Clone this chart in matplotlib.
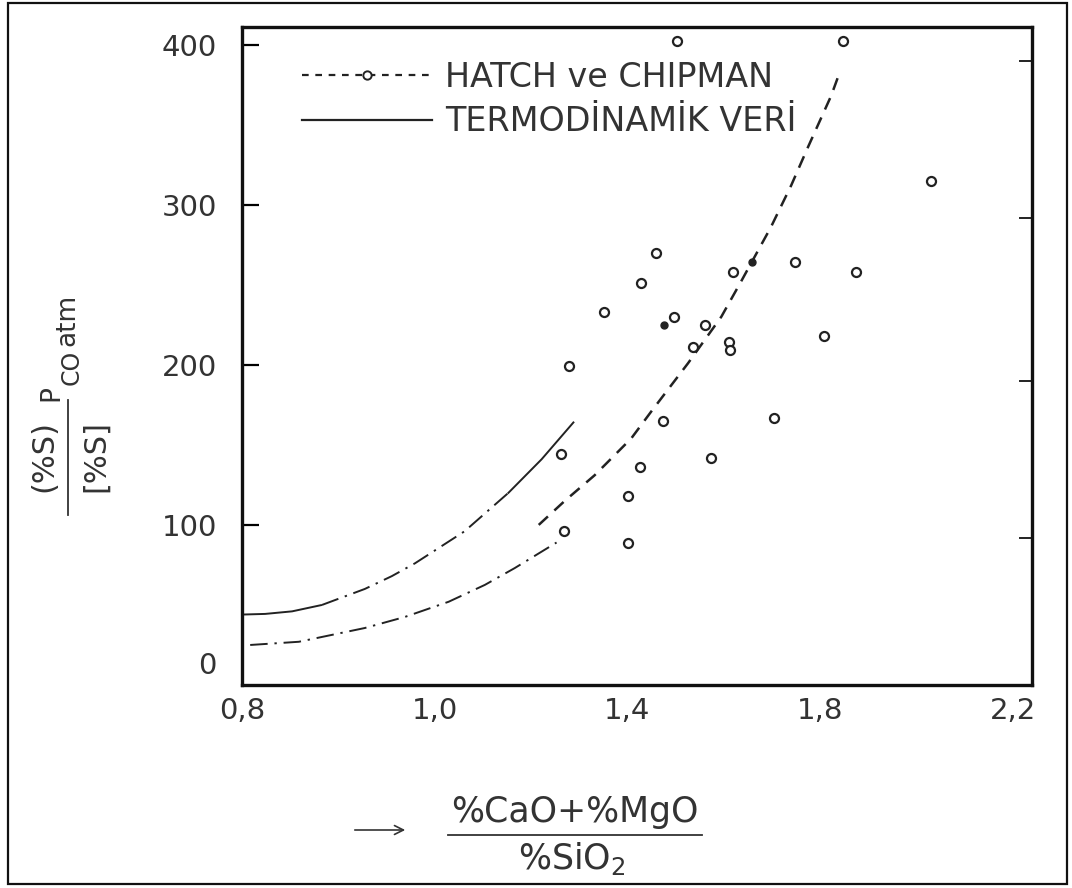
import matplotlib
matplotlib.use("Agg")
import matplotlib.pyplot as plt
from matplotlib.lines import Line2D
from matplotlib.patches import Rectangle, FancyArrowPatch

plt.rcParams['font.family'] = ['DejaVu Sans']
plt.rcParams['mathtext.default'] = 'regular'

# ---------------- data ----------------
# x tick positions (linear scale) and the labels printed on the original
x_tick_pos = [0.6, 1.0, 1.4, 1.8, 2.2]
x_tick_labels = ["0,8", "1,0", "1,4", "1,8", "2,2"]
y_tick_pos = [100, 200, 300, 400]
y_tick_labels = ["100", "200", "300", "400"]

# HATCH ve CHIPMAN measured points (open circles)
hc_x = [1.502, 1.848, 2.030, 1.460, 1.429, 1.352, 1.497, 1.562, 1.537, 1.611,
        1.613, 1.620, 1.748, 1.875, 1.808, 1.278, 1.475, 1.705, 1.263, 1.574,
        1.427, 1.269, 1.402, 1.402]
hc_y = [402, 402, 315, 270, 251, 233, 230, 225, 211, 214,
        209, 258, 264, 258, 218, 199, 165, 167, 144, 142,
        136, 96, 118, 89]
# filled points
hc_fill_x = [1.477, 1.659]
hc_fill_y = [225, 264]

# HATCH ve CHIPMAN fitted curve (dashed)
hc_curve_x = [1.216, 1.27, 1.332, 1.408, 1.45, 1.526, 1.595, 1.636, 1.698, 1.74, 1.775, 1.823, 1.84]
hc_curve_y = [100, 115, 131, 154, 171, 201, 230, 252, 286, 312, 336, 368, 382]

# TERMODINAMIK VERI curves
td_up_x = [0.60, 0.648, 0.704, 0.766, 0.855, 0.911, 0.959, 1.062, 1.153, 1.222, 1.288]
td_up_y = [44, 44.4, 46, 50, 60, 68, 76, 96, 120, 141, 164]
td_lo_x = [0.617, 0.718, 0.855, 0.938, 1.029, 1.104, 1.166, 1.253]
td_lo_y = [25, 27, 35.6, 42.5, 52, 62.5, 73, 89]

legend_labels = ["HATCH ve CHIPMAN", "TERMODİNAMİK VERİ"]

# ---------------- figure ----------------
W, H = 1072, 888
fig = plt.figure(figsize=(W / 100, H / 100), dpi=100)
fx = lambda x: x / W
fy = lambda y: 1 - y / H

ax = fig.add_axes([fx(242), fy(685), (1032 - 242) / W, (685 - 27) / H])
ax.set_xlim(0.6, 2.24)
ax.set_ylim(0, 411)

for s in ax.spines.values():
    s.set_linewidth(2.4)
    s.set_color('#111111')

# curves
dashdot = (0, (9, 3.5, 1.2, 3.5))
ax.plot(td_up_x[:4], td_up_y[:4], color='#222222', lw=1.4, solid_capstyle='butt')
ax.plot(td_up_x[3:9], td_up_y[3:9], color='#222222', lw=1.4, ls=dashdot)
ax.plot(td_up_x[8:], td_up_y[8:], color='#222222', lw=1.4)
ax.plot(td_lo_x, td_lo_y, color='#222222', lw=1.4, ls=dashdot)
ax.plot(hc_curve_x, hc_curve_y, color='#222222', lw=1.8, ls=(0, (5, 3.5)))

# points
ax.plot(hc_x, hc_y, ls='none', marker='o', ms=6.5, mfc='white', mec='#222222', mew=1.6)
ax.plot(hc_fill_x, hc_fill_y, ls='none', marker='o', ms=5, mfc='#222222', mec='#222222')

# ticks
ax.set_xticks(x_tick_pos)
ax.set_xticklabels(x_tick_labels, fontsize=21, color='#333333')
ax.set_yticks(y_tick_pos)
ax.set_yticklabels(y_tick_labels, fontsize=21, color='#333333')
ax.tick_params(axis='x', length=0, pad=9)
ax.tick_params(axis='y', direction='in', length=12, width=1.6, pad=18, left=True, right=False)
ax.annotate("0", xy=(0, 0), xycoords=ax.get_yaxis_transform(), xytext=(-18, 14),
            textcoords='offset points', ha='right', va='center', fontsize=21, color='#333333')

# right inner ticks (as on the original)
for yv in [92, 190, 292, 390]:
    ax.plot([1.0, 0.985], [yv, yv], transform=ax.get_yaxis_transform(), color='#222222',
            lw=1.4, clip_on=False)

# legend
h1 = Line2D([], [], color='#222222', lw=1.6, ls=(0, (3, 3)), marker='o', ms=6,
            mfc='white', mec='#222222', mew=1.4)
h2 = Line2D([], [], color='#222222', lw=1.6)
ax.legend([h1, h2], legend_labels, loc='upper left', bbox_to_anchor=(fx(285), fy(44)),
          bbox_transform=fig.transFigure, frameon=False, fontsize=24, numpoints=1,
          handlelength=3.9, handletextpad=0.4, labelspacing=0.35, borderpad=0,
          labelcolor='#333333')

# x-axis label: arrow + fraction
fig.add_artist(FancyArrowPatch((fx(352), fy(830)), (fx(408), fy(830)),
                               transform=fig.transFigure, arrowstyle='->',
                               mutation_scale=16, lw=1.2, color='#333333'))
fig.text(fx(575), fy(812), "%CaO+%MgO", ha='center', va='center', fontsize=25, color='#333333')
fig.add_artist(Line2D([fx(448), fx(702)], [fy(835), fy(835)], transform=fig.transFigure,
                      color='#333333', lw=1.3))
fig.text(fx(572), fy(858), "%SiO$_2$", ha='center', va='center', fontsize=25, color='#333333')

# y-axis label: fraction + P_CO atm (rotated)
fig.text(fx(44), fy(456), "(%S)", rotation=90, ha='center', va='center', fontsize=22, color='#333333')
fig.add_artist(Line2D([fx(68), fx(68)], [fy(400), fy(515)], transform=fig.transFigure,
                      color='#333333', lw=1.3))
fig.text(fx(96), fy(456), "[%S]", rotation=90, ha='center', va='center', fontsize=22, color='#333333')
fig.text(fx(51), fy(393), "P", rotation=90, ha='center', va='center', fontsize=19, color='#333333')
fig.text(fx(72), fy(367), "CO", rotation=90, ha='center', va='center', fontsize=17, color='#333333')
fig.text(fx(67), fy(320), "atm", rotation=90, ha='center', va='center', fontsize=19, color='#333333')

# outer border of the scanned page
fig.add_artist(Rectangle((fx(8), fy(884)), (1067 - 8) / W, (884 - 3) / H,
                         transform=fig.transFigure, fill=False, lw=1.6, ec='#111111'))

fig.savefig("out.png", dpi=100)
